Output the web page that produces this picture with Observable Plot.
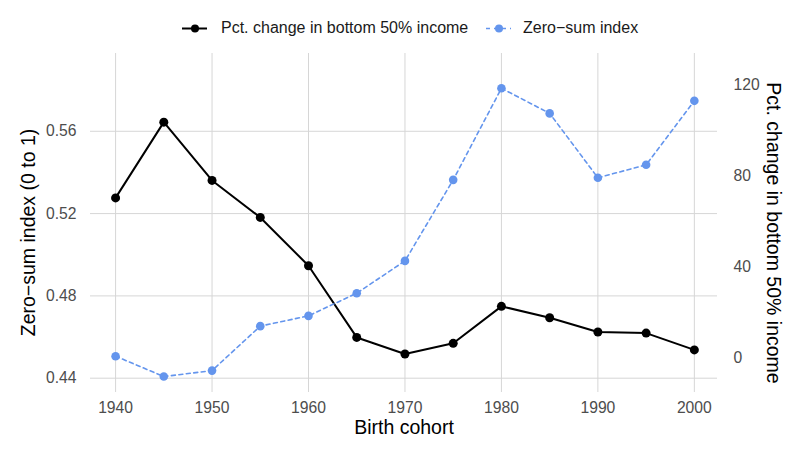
<!DOCTYPE html>
<html>
<head>
<meta charset="utf-8">
<script src="https://cdn.jsdelivr.net/npm/d3@7"></script>
<script src="https://cdn.jsdelivr.net/npm/@observablehq/plot@0.6"></script>
<style>
  html, body { margin: 0; padding: 0; background: #ffffff; }
  body { width: 800px; height: 455px; overflow: hidden; font-family: "Liberation Sans", Arial, Helvetica, sans-serif; }
  #legend { position: relative; width: 800px; height: 45px; }
  #legend .key { position: absolute; }
  #legend .lab { position: absolute; font-size: 16px; color: #1a1a1a; line-height: 16px; white-space: nowrap; }
  #chart svg { display: block; }
</style>
</head>
<body>
<div id="legend"></div>
<div id="chart"></div>
<script>
// ---- Data ----
const years = [1940, 1945, 1950, 1955, 1960, 1965, 1970, 1975, 1980, 1985, 1990, 1995, 2000];
// Pct. change in bottom 50% income (right axis)
const pctChange = [70.4, 103.8, 78.1, 61.8, 40.5, 8.9, 1.6, 6.3, 22.6, 17.6, 11.3, 10.8, 3.4];
// Zero-sum index (left axis)
const zeroSum = [0.4507, 0.4408, 0.4437, 0.4653, 0.4703, 0.4813, 0.4970, 0.5364, 0.5809, 0.5687, 0.5374, 0.5437, 0.5748];
const xTicks = [1940, 1950, 1960, 1970, 1980, 1990, 2000];
const leftTicks = [0.44, 0.48, 0.52, 0.56];
const rightTicks = [0, 40, 80, 120];
const seriesNames = ["Pct. change in bottom 50% income", "Zero\u2212sum index"];

// secondary axis transform: index = SEC_BASE + pct / SEC_SCALE
const SEC_BASE = 0.45;
const SEC_SCALE = 907;
const toLeft = p => SEC_BASE + p / SEC_SCALE;
const fromLeft = v => (v - SEC_BASE) * SEC_SCALE;

const blackColor = "#000000";
const blueColor = "#6495ED";

const blackData = years.map((x, i) => ({x, y: toLeft(pctChange[i])}));
const blueData = years.map((x, i) => ({x, y: zeroSum[i]}));

// ---- Legend (HTML above the SVG) ----
const legend = document.getElementById("legend");
legend.innerHTML = `
  <svg class="key" style="left:181px;top:20px" width="27" height="17">
    <line x1="1" x2="26" y1="8.5" y2="8.5" stroke="${blackColor}" stroke-width="2"/>
    <circle cx="14" cy="8.5" r="4" fill="${blackColor}"/>
  </svg>
  <span class="lab" style="left:221px;top:20px">${seriesNames[0]}</span>
  <svg class="key" style="left:485px;top:20px" width="27" height="17">
    <line x1="1" x2="26" y1="8.5" y2="8.5" stroke="${blueColor}" stroke-width="1.5" stroke-dasharray="4,4"/>
    <circle cx="14" cy="8.5" r="4" fill="${blueColor}"/>
  </svg>
  <span class="lab" style="left:523px;top:20px">${seriesNames[1]}</span>
`;

// ---- Chart ----
const gridColor = "#d6d6d6";
const tickColor = "#4d4d4d";

const chart = Plot.plot({
  width: 800,
  height: 410,
  marginTop: 8,
  marginBottom: 63,
  marginLeft: 90,
  marginRight: 83,
  style: {fontFamily: "'Liberation Sans', Arial, Helvetica, sans-serif", fontSize: "15.7px", background: "#ffffff"},
  x: {domain: [1937.4, 2002.4]},
  y: {domain: [0.43305, 0.5978]},
  marks: [
    Plot.gridX(xTicks, {stroke: gridColor, strokeOpacity: 1, strokeWidth: 1}),
    Plot.gridY(leftTicks, {stroke: gridColor, strokeOpacity: 1, strokeWidth: 1}),
    Plot.axisX(xTicks, {tickSize: 0, tickPadding: 9, tickFormat: d => String(d), label: null, fill: tickColor}),
    Plot.axisY(leftTicks, {anchor: "left", tickSize: 0, tickPadding: 14, tickFormat: d => d.toFixed(2), label: null, fill: tickColor}),
    Plot.axisY(rightTicks.map(toLeft), {anchor: "right", tickSize: 0, tickPadding: 16, tickFormat: d => String(Math.round(fromLeft(d))), label: null, fill: tickColor}),
    Plot.line(blackData, {x: "x", y: "y", stroke: blackColor, strokeWidth: 2}),
    Plot.dot(blackData, {x: "x", y: "y", r: 4.5, fill: blackColor, stroke: "none"}),
    Plot.line(blueData, {x: "x", y: "y", stroke: blueColor, strokeWidth: 1.6, strokeDasharray: "4,3.5"}),
    Plot.dot(blueData, {x: "x", y: "y", r: 4.3, fill: blueColor, stroke: "none"}),
    Plot.text(["Zero\u2212sum index (0 to 1)"], {frameAnchor: "left", rotate: -90, dx: -62, dy: 9.5, fontSize: 19.5, fill: "#000000", text: d => d, textAnchor: "middle", lineAnchor: "middle"}),
    Plot.text(["Pct. change in bottom 50% income"], {frameAnchor: "right", rotate: 90, dx: 56, dy: 10, fontSize: 19.5, fill: "#000000", text: d => d, textAnchor: "middle", lineAnchor: "middle"}),
    Plot.text(["Birth cohort"], {frameAnchor: "bottom", dy: 35, fontSize: 19.5, fill: "#000000", text: d => d, textAnchor: "middle", lineAnchor: "middle"})
  ]
});
document.getElementById("chart").appendChild(chart);
</script>
</body>
</html>
